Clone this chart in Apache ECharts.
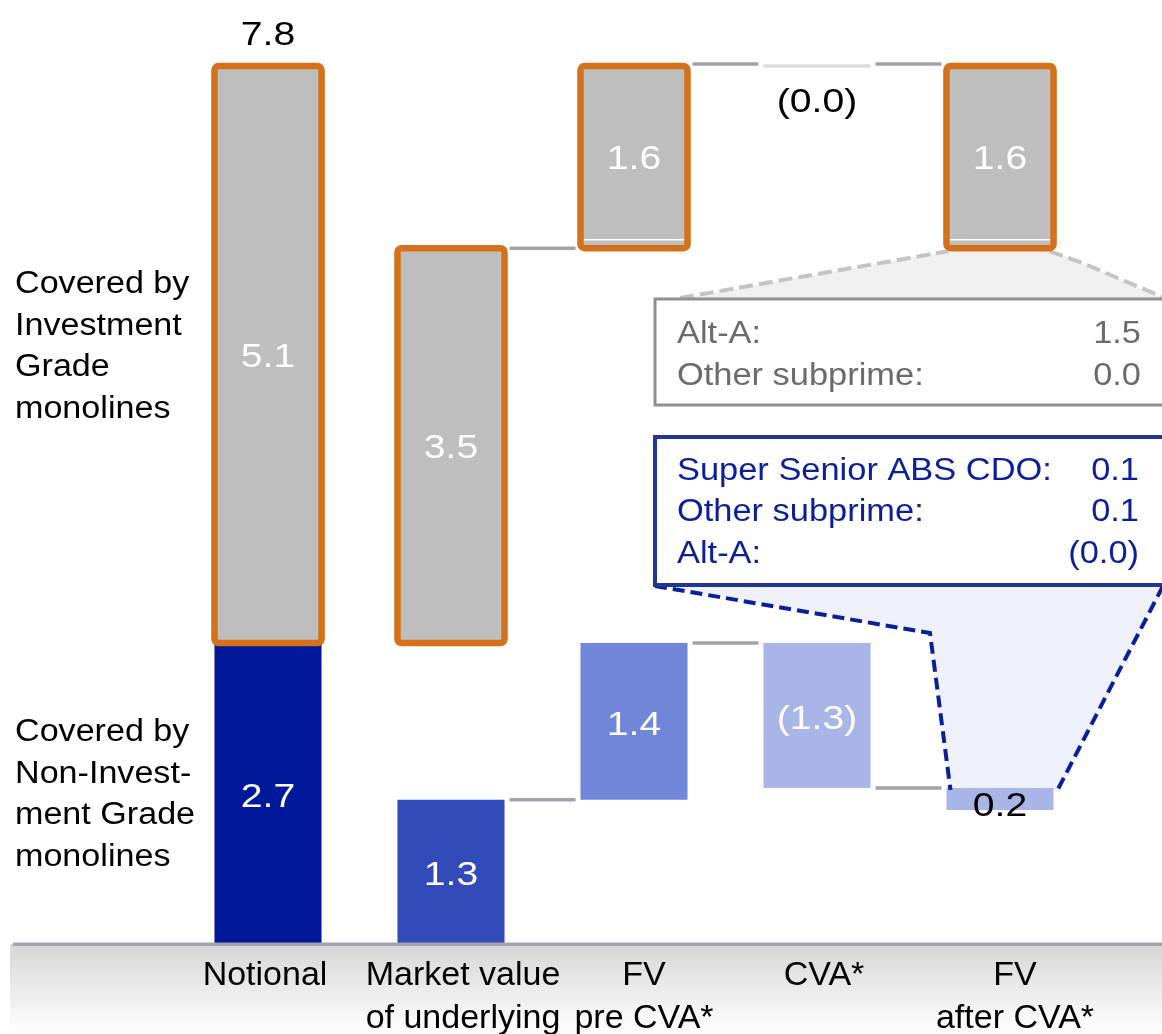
<!DOCTYPE html>
<html><head><meta charset="utf-8">
<script src="https://cdn.jsdelivr.net/npm/echarts@6/dist/echarts.min.js"></script>
<style>html,body{margin:0;padding:0;background:#fff}#c{width:1162px;height:1034px}</style>
</head><body><div id="c"></div>
<script>
// ---------- data ----------
const categories = ['Notional', 'Market value\nof underlying', 'FV\npre CVA*', 'CVA*', 'FV\nafter CVA*'];
// Non-investment grade segment (low / high level of each floating bar)
const nigLow  = [0, 0, 1.28, 1.385, 1.19];
const nigHigh = [2.673, 1.28, 2.673, 2.673, 1.385];
const nigLabels = ['2.7', '1.3', '1.4', '(1.3)', '0.2'];
// Investment grade segment
const igLow  = [2.673, 2.673, 6.18, 7.797, 6.18];
const igHigh = [7.797, 6.18, 7.797, 7.797, 7.797];
const igSplit = [null, null, 6.255, null, 6.255];
const igLabels = ['5.1', '3.5', '1.6', '(0.0)', '1.6'];
const totalLabels = ['7.8', '', '', '', ''];
// connectors: from category index to the next one, at level
const connFrom  = [1, 1, 2, 2, 3, 3];
const connLevel = [6.18, 1.28, 7.797, 2.673, 7.797, 1.385];
// callouts
const box1Names = ['Alt-A:', 'Other subprime:'];
const box1Values = ['1.5', '0.0'];
const box2Names = ['Super Senior ABS CDO:', 'Other subprime:', 'Alt-A:'];
const box2Values = ['0.1', '0.1', '(0.0)'];
const groupLabels = ['Covered by\nInvestment\nGrade\nmonolines', 'Covered by\nNon-Invest-\nment Grade\nmonolines'];

// ---------- styles ----------
const FONT = 'Liberation Sans, Arial, Helvetica, sans-serif';
const nigColors = ['#00189a', '#334bb8', '#7186d9', '#a9b5e7', '#a9b5e7'];
const IG_FILL = '#bebebe', ORANGE = '#d4711a';
const BAR_FRAC = 0.585;
const LABEL_SHIFT = [-3, 12, 10, 7, 15];   // horizontal nudges of the category labels (px)
const VAL_FONT = '34px ' + FONT, VAL_SX = 1.15;

const chart = echarts.init(document.getElementById('c'), null, {renderer: 'canvas'});

function barWidth(api) { return api.size([1, 0])[0] * BAR_FRAC; }
function valText(text, x, y, fill) {
  return {type: 'text', x: x, y: y, scaleX: VAL_SX,
    style: {text: text, x: 0, y: 0, fill: fill, font: VAL_FONT, align: 'center', verticalAlign: 'middle'}};
}

const option = {
  animation: false,
  grid: {left: 176.5, right: 70.5, top: 43.2, bottom: 90, outerBoundsMode: 'none', containLabel: false},
  xAxis: {
    type: 'category',
    data: categories.map((c, i) => ({value: c, textStyle: {padding: LABEL_SHIFT[i] >= 0 ? [0, 0, 0, 2 * LABEL_SHIFT[i]] : [0, -2 * LABEL_SHIFT[i], 0, 0]}})),
    axisLine: {show: false}, axisTick: {show: false},
    axisLabel: {fontSize: 34, lineHeight: 43, color: '#000', fontFamily: FONT, margin: 10, interval: 0}
  },
  yAxis: {type: 'value', min: 0, max: 8, show: false},
  series: [
    {
      type: 'custom', name: 'Non-investment grade', z: 3,
      data: categories.map((c, i) => [i, nigLow[i], nigHigh[i]]),
      encode: {x: 0, y: [1, 2]},
      renderItem(params, api) {
        const i = api.value(0);
        const top = api.coord([i, api.value(2)]);
        const bot = api.coord([i, api.value(1)]);
        const w = barWidth(api), h = bot[1] - top[1];
        const small = h < 40;
        return {type: 'group', children: [
          {type: 'rect', shape: {x: top[0] - w / 2, y: top[1], width: w, height: h}, style: {fill: nigColors[i]}},
          valText(nigLabels[i], top[0], top[1] + h / 2 + (small ? 8 : 4), small ? '#000' : '#fff')
        ]};
      }
    },
    {
      type: 'custom', name: 'Investment grade', z: 3,
      data: categories.map((c, i) => [i, igLow[i], igHigh[i], igSplit[i] == null ? NaN : igSplit[i]]),
      encode: {x: 0, y: [1, 2]},
      renderItem(params, api) {
        const i = api.value(0);
        const lo = api.value(1), hi = api.value(2), sp = api.value(3);
        const top = api.coord([i, hi]);
        const bot = api.coord([i, lo]);
        const w = barWidth(api), h = bot[1] - top[1];
        const x = top[0] - w / 2;
        const ch = [];
        if (h < 1) {
          ch.push({type: 'rect', shape: {x: x, y: top[1] - 1.75, width: w, height: 3.5}, style: {fill: '#dcdcdc'}});
          ch.push(valText(igLabels[i], top[0], top[1] + 37, '#000'));
        } else {
          ch.push({type: 'rect', shape: {x: x, y: top[1], width: w, height: h}, style: {fill: IG_FILL}});
          if (!isNaN(sp)) {
            const sy = api.coord([i, sp])[1];
            ch.push({type: 'line', shape: {x1: x + 2, y1: sy, x2: x + w - 2, y2: sy}, style: {stroke: '#fff', lineWidth: 1.5}});
          }
          ch.push({type: 'rect', shape: {x: x, y: top[1], width: w, height: h, r: 4}, style: {fill: null, stroke: ORANGE, lineWidth: 6.5}});
          ch.push(valText(igLabels[i], top[0], top[1] + h / 2 + 3, '#fff'));
          if (totalLabels[i]) ch.push(valText(totalLabels[i], top[0], top[1] - 30, '#000'));
        }
        return {type: 'group', children: ch};
      }
    },
    {
      type: 'custom', name: 'Connectors', z: 2,
      data: connFrom.map((f, k) => [f, connLevel[k]]),
      encode: {x: 0, y: 1},
      renderItem(params, api) {
        const i = api.value(0), lv = api.value(1);
        const p = api.coord([i, lv]), q = api.coord([i + 1, lv]);
        const w = barWidth(api);
        const dy = lv > 7.5 ? -2 : 0;
        return {type: 'line', shape: {x1: p[0] + w / 2 + 5, y1: p[1] + dy, x2: q[0] - w / 2 - 5, y2: q[1] + dy},
          style: {stroke: '#a2a2aa', lineWidth: 3.5}};
      }
    }
  ]
};
chart.setOption(option);

// ---------- annotations anchored to the bars ----------
const w = 915 / 5 * BAR_FRAC;
const igBot = chart.convertToPixel({gridIndex: 0}, [4, igLow[4]]);
const nigTop = chart.convertToPixel({gridIndex: 0}, [4, nigHigh[4]]);
const baseY = chart.convertToPixel({gridIndex: 0}, [0, 0])[1];
const dash = {lineDash: [14, 6], lineWidth: 4};
const graphics = [
  // bottom axis band
  {type: 'rect', z: -10, shape: {x: 10, y: baseY, width: 1152, height: 1034 - baseY},
    style: {fill: new echarts.graphic.LinearGradient(0, 0, 0, 1, [{offset: 0, color: '#d6d6d6'}, {offset: 1, color: '#ffffff'}])}},
  {type: 'rect', z: 10, shape: {x: 13, y: baseY - 1.5, width: 1149, height: 3.5}, style: {fill: '#a4a4ac'}},
  // grey callout
  {type: 'polygon', z: 1, shape: {points: [[680, 299], [igBot[0] - w / 2, igBot[1] + 3], [igBot[0] + w / 2, igBot[1] + 3], [1165, 299]]}, style: {fill: '#f0f0f0'}},
  {type: 'polyline', z: 1, shape: {points: [[680, 298], [igBot[0] - w / 2 + 2, igBot[1] + 3]]}, style: Object.assign({stroke: '#c4c4c4'}, dash)},
  {type: 'polyline', z: 1, shape: {points: [[igBot[0] + w / 2 - 4, igBot[1] + 3], [1080, 262], [1165, 298]]}, style: Object.assign({stroke: '#c4c4c4'}, dash)},
  {type: 'rect', z: 5, shape: {x: 655, y: 299, width: 530, height: 106}, style: {fill: '#fff', stroke: '#909090', lineWidth: 3}},
  // blue callout
  {type: 'polygon', z: 1, shape: {points: [[655, 585], [1165, 585], [nigTop[0] + w / 2 + 4, nigTop[1] + 2], [nigTop[0] - w / 2 + 4, nigTop[1] + 2], [930, 633]]}, style: {fill: '#eef1fa'}},
  {type: 'polyline', z: 4, shape: {points: [[655, 586], [930, 633], [nigTop[0] - w / 2 + 4, nigTop[1] + 2]]}, style: Object.assign({stroke: '#0a1f99', fill: null}, dash, {lineDash: [12, 6]})},
  {type: 'polyline', z: 4, shape: {points: [[1163, 586], [nigTop[0] + w / 2 + 4, nigTop[1] + 2]]}, style: Object.assign({stroke: '#0a1f99', fill: null}, dash, {lineDash: [12, 6]})},
  {type: 'rect', z: 5, shape: {x: 655, y: 437, width: 530, height: 148}, style: {fill: '#fff', stroke: '#22358f', lineWidth: 4}}
];
const BOX_FONT = '31px ' + FONT, BOX_SX = 1.11;
function boxText(text, x, y, fill, align) {
  return {type: 'text', z: 6, x: x, y: y, scaleX: BOX_SX,
    style: {text: text, x: 0, y: 0, fill: fill, font: BOX_FONT, align: align, verticalAlign: 'middle'}};
}
box1Names.forEach((t, k) => {
  graphics.push(boxText(t, 677, 334 + k * 42, '#6b6b6b', 'left'));
  graphics.push(boxText(box1Values[k], 1141, 334 + k * 42, '#6b6b6b', 'right'));
});
box2Names.forEach((t, k) => {
  graphics.push(boxText(t, 677, 471 + k * 41.5, '#0a1f99', 'left'));
  graphics.push(boxText(box2Values[k], 1139, 471 + k * 41.5, '#0a1f99', 'right'));
});
[264, 712].forEach((y, k) => {
  graphics.push({type: 'text', z: 6, x: 15, y: y, scaleX: 1.1,
    style: {text: groupLabels[k], x: 0, y: 0, fill: '#000', font: '31px ' + FONT, lineHeight: 41.5, verticalAlign: 'top'}});
});
chart.setOption({graphic: {elements: graphics}});
</script></body></html>
